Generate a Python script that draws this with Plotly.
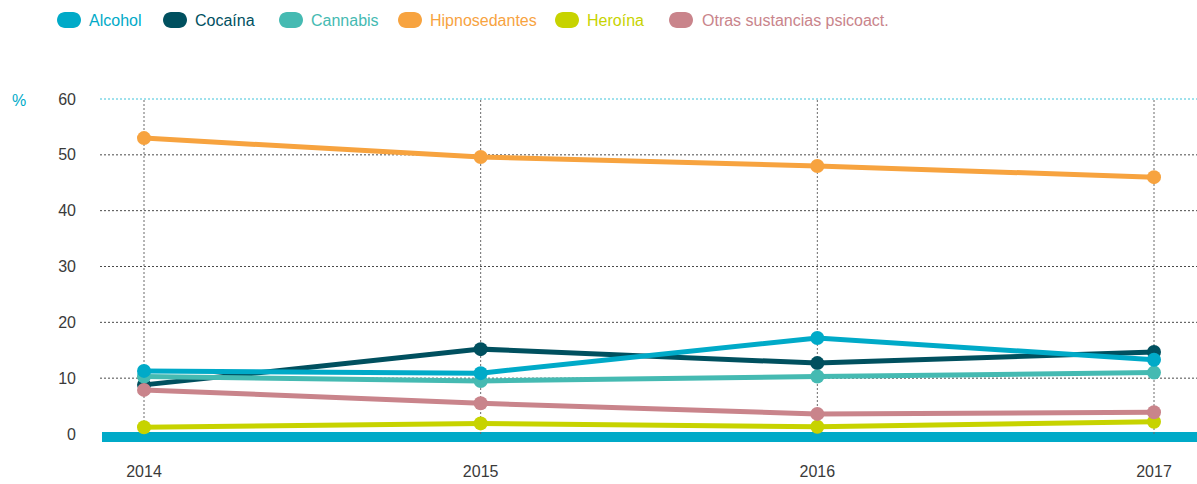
import plotly.graph_objects as go

# Years and shares (%) per substance
years = [2014, 2015, 2016, 2017]
alcohol = [11.3, 10.9, 17.2, 13.3]
cocaina = [8.8, 15.2, 12.7, 14.7]
cannabis = [10.3, 9.5, 10.3, 11.0]
hipnosedantes = [53.0, 49.6, 48.0, 46.0]
heroina = [1.2, 1.9, 1.3, 2.2]
otras = [7.9, 5.5, 3.6, 3.9]

series_names = ["Alcohol", "Cocaína", "Cannabis", "Hipnosedantes", "Heroína",
                "Otras sustancias psicoact."]
series_values = [alcohol, cocaina, cannabis, hipnosedantes, heroina, otras]
series_colors = ["#00AAC8", "#00505F", "#45BAB2", "#F7A33F", "#C7D300", "#C9848B"]

y_ticks = [0, 10, 20, 30, 40, 50, 60]

W, H = 1197, 484
ML, MR, MT, MB = 100, 0, 90, 34
PW, PH = W - ML - MR, H - MT - MB

def px_x(px):
    return (px - ML) / PW

def px_y(py):
    return (H - MB - py) / PH

fig = go.Figure()

# drawing order so that overlapping markers stack as intended
order = [1, 2, 3, 4, 5, 0]
for i in order:
    fig.add_trace(go.Scatter(
        x=years, y=series_values[i], name=series_names[i],
        mode="lines+markers",
        line=dict(color=series_colors[i], width=5),
        marker=dict(color=series_colors[i], size=14),
        showlegend=False,
        hoverinfo="x+y+name",
    ))

shapes = []
# horizontal grid
for t in y_ticks[1:]:
    shapes.append(dict(
        type="line", xref="paper", yref="y", x0=0, x1=1, y0=t, y1=t,
        line=dict(color="#3FC3DA" if t == 60 else "#4a4a4a", width=1, dash="2px,2px"),
        layer="below",
    ))
# vertical grid at each year
for yr in years:
    shapes.append(dict(
        type="line", xref="x", yref="y", x0=yr, x1=yr, y0=0, y1=60,
        line=dict(color="#6a6a6a", width=1, dash="2px,2px"),
        layer="below",
    ))
# thick baseline band
shapes.append(dict(
    type="rect", xref="paper", yref="y", x0=px_x(102), x1=1, y0=-1.45, y1=0.35,
    line=dict(width=0), fillcolor="#00AAC8", layer="below",
))

# custom legend: pill swatches + labels
pill = ("M -4,-8 L 4,-8 C 8.42,-8 12,-4.42 12,0 C 12,4.42 8.42,8 4,8 "
        "L -4,8 C -8.42,8 -12,4.42 -12,0 C -12,-4.42 -8.42,-8 -4,-8 Z")
pill_x = [69, 175, 291, 410, 567, 681]
text_x = [87, 193, 309, 428, 585, 700]
annotations = []
for name, col, pxc, tx in zip(series_names, series_colors, pill_x, text_x):
    shapes.append(dict(
        type="path", xref="paper", yref="paper", xsizemode="pixel", ysizemode="pixel",
        xanchor=px_x(pxc), yanchor=px_y(20), path=pill,
        fillcolor=col, line=dict(width=0),
    ))
    annotations.append(dict(
        text=name, xref="paper", yref="paper", x=px_x(tx), y=px_y(20),
        xanchor="left", yanchor="middle", showarrow=False,
        font=dict(size=16, color=col),
    ))

annotations.append(dict(
    text="%", xref="paper", yref="paper", x=px_x(10), y=px_y(100),
    xanchor="left", yanchor="middle", showarrow=False,
    font=dict(size=16, color="#00AAC8"),
))

px_per_year = (1154 - 144) / 3
fig.update_layout(
    width=W, height=H,
    margin=dict(l=ML, r=MR, t=MT, b=MB, pad=0),
    paper_bgcolor="white", plot_bgcolor="white",
    font=dict(family="Liberation Sans, Arial, sans-serif", size=16, color="#3a3a3a"),
    showlegend=False,
    shapes=shapes,
    annotations=annotations,
    xaxis=dict(
        range=[2014 - (144 - ML) / px_per_year, 2017 + (W - 1154) / px_per_year],
        tickvals=years, ticktext=[str(y) for y in years],
        showgrid=False, zeroline=False, showline=False, ticks="",
        ticklabelstandoff=10,
        tickfont=dict(size=16, color="#3a3a3a"),
    ),
    yaxis=dict(
        range=[-(H - MB - 434) / 5.583, 60 + (99 - MT) / 5.583],
        tickvals=y_ticks,
        showgrid=False, zeroline=False, showline=False, ticks="",
        ticklabelstandoff=23,
        tickfont=dict(size=16, color="#3a3a3a"),
    ),
)

fig.write_html("out.html")
